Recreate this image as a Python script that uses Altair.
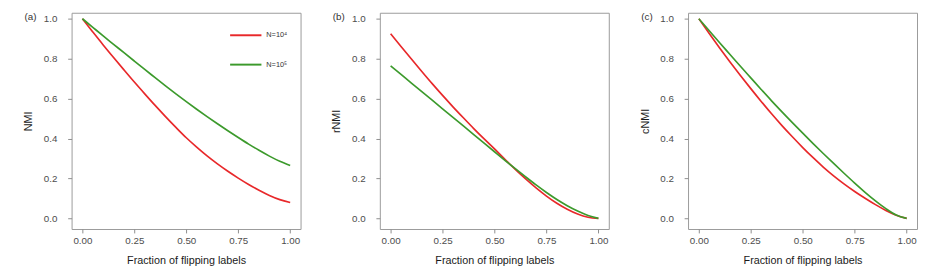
import altair as alt
import pandas as pd

# Fraction of flipping labels
frac = [0.00, 0.05, 0.10, 0.15, 0.20, 0.25, 0.30, 0.35, 0.40, 0.45, 0.50,
        0.55, 0.60, 0.65, 0.70, 0.75, 0.80, 0.85, 0.90, 0.95, 1.00]

series_names = ["N=10⁴", "N=10⁵"]
series_colors = ["#e8282a", "#3c9a2c"]

# (a) NMI
nmi_n4 = [1.000, 0.934, 0.869, 0.806, 0.744, 0.683, 0.624, 0.566, 0.510, 0.456, 0.404,
          0.357, 0.313, 0.273, 0.236, 0.202, 0.170, 0.141, 0.115, 0.094, 0.080]
nmi_n5 = [1.000, 0.957, 0.914, 0.872, 0.830, 0.788, 0.746, 0.705, 0.664, 0.624, 0.585,
          0.547, 0.510, 0.474, 0.439, 0.405, 0.372, 0.341, 0.312, 0.286, 0.265]
# (b) rNMI
rnmi_n4 = [0.925, 0.861, 0.798, 0.736, 0.675, 0.616, 0.559, 0.504, 0.450, 0.398, 0.348,
           0.296, 0.246, 0.198, 0.153, 0.112, 0.076, 0.046, 0.022, 0.006, 0.000]
rnmi_n5 = [0.764, 0.721, 0.678, 0.635, 0.592, 0.549, 0.506, 0.463, 0.420, 0.377, 0.334,
           0.291, 0.249, 0.208, 0.168, 0.130, 0.095, 0.064, 0.037, 0.015, 0.000]
# (c) cNMI
cnmi_n4 = [1.000, 0.926, 0.854, 0.784, 0.716, 0.650, 0.586, 0.524, 0.465, 0.409, 0.355,
           0.304, 0.256, 0.212, 0.172, 0.135, 0.101, 0.069, 0.040, 0.016, 0.000]
cnmi_n5 = [1.000, 0.940, 0.880, 0.821, 0.762, 0.704, 0.646, 0.589, 0.534, 0.480, 0.427,
           0.375, 0.324, 0.274, 0.225, 0.177, 0.131, 0.088, 0.049, 0.017, 0.000]

panel_labels = ["(a)", "(b)", "(c)"]
y_titles = ["NMI", "rNMI", "cNMI"]
x_title = "Fraction of flipping labels"
x_ticks = [0.0, 0.25, 0.5, 0.75, 1.0]
y_ticks = [0.0, 0.2, 0.4, 0.6, 0.8, 1.0]

FONT = "Liberation Sans"
W, H = 234, 221


def make_df(a, b):
    rows = []
    for name, vals in zip(series_names, [a, b]):
        for x, v in zip(frac, vals):
            rows.append({"x": x, "v": v, "series": name})
    return pd.DataFrame(rows)


def panel(i, a, b, show_legend):
    df = make_df(a, b)
    if show_legend:
        legend = alt.Legend(
            title=None, orient="none", legendX=161, legendY=6,
            symbolType="stroke", symbolSize=1024, symbolStrokeWidth=2,
            labelFont=FONT, labelFontSize=7.5, labelColor="#333333",
            labelOffset=4, rowPadding=9, direction="vertical",
        )
    else:
        legend = None
    lines = alt.Chart(df).mark_line(strokeWidth=1.7, interpolate="monotone").encode(
        x=alt.X("x:Q", title=x_title,
                scale=alt.Scale(domain=[-0.052, 1.05], nice=False, zero=False),
                axis=alt.Axis(values=x_ticks, format=".2f", grid=False, domain=False,
                              tickSize=4, tickColor="#8c8c8c", labelPadding=3,
                              titlePadding=9)),
        y=alt.Y("v:Q", title=y_titles[i],
                scale=alt.Scale(domain=[-0.053, 1.03], nice=False, zero=False),
                axis=alt.Axis(values=y_ticks, format=".1f", grid=False, domain=False,
                              tickSize=4, tickColor="#8c8c8c", labelPadding=11,
                              titlePadding=10)),
        color=alt.Color("series:N",
                        scale=alt.Scale(domain=series_names, range=series_colors),
                        legend=legend),
    )
    lab = alt.Chart(pd.DataFrame({"label": [panel_labels[i]]})).mark_text(
        font=FONT, fontSize=10, color="#333333", align="center", baseline="middle"
    ).encode(x=alt.value(-42), y=alt.value(4), text="label:N")
    return alt.layer(lines, lab).properties(width=W, height=H)


chart = alt.hconcat(
    panel(0, nmi_n4, nmi_n5, True),
    panel(1, rnmi_n4, rnmi_n5, False),
    panel(2, cnmi_n4, cnmi_n5, False),
    spacing=29,
).resolve_scale(color="independent").properties(
    padding={"left": 14, "top": 0, "right": 0, "bottom": 0}
).configure_view(
    stroke="#9a9a9a", strokeWidth=1
).configure_axis(
    labelFont=FONT, labelFontSize=10, labelColor="#4d4d4d",
    titleFont=FONT, titleFontSize=11, titleColor="#1a1a1a", titleFontWeight="normal",
)

chart.save("out.html", embed_options={"renderer": "svg", "actions": False})
